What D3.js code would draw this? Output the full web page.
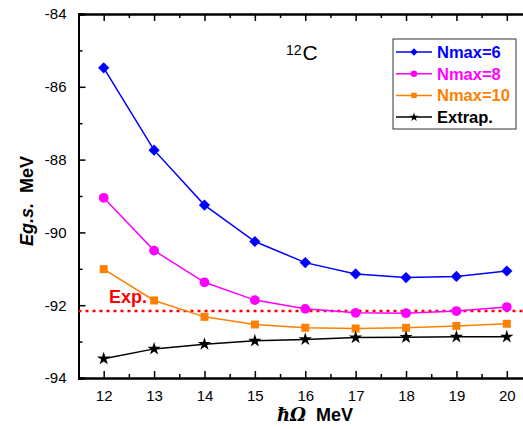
<!DOCTYPE html>
<html>
<head>
<meta charset="utf-8">
<script src="https://cdn.jsdelivr.net/npm/d3@7"></script>
<style>
  body { margin: 0; background: #fff; }
  svg { display: block; font-family: Arial, "Liberation Sans", sans-serif; }
</style>
</head>
<body>
<svg id="chart" width="523" height="429"></svg>
<script>
// hbar*Omega values (MeV)
const hw = [12, 13, 14, 15, 16, 17, 18, 19, 20];
// ground state energies
const nmax6 = [-85.48, -87.74, -89.25, -90.25, -90.83, -91.14, -91.24, -91.21, -91.06];
const nmax8 = [-89.05, -90.50, -91.37, -91.86, -92.10, -92.21, -92.22, -92.16, -92.05];
const nmax10 = [-91.01, -91.87, -92.32, -92.53, -92.62, -92.64, -92.62, -92.57, -92.51];
const extrap = [-93.47, -93.20, -93.07, -92.98, -92.94, -92.89, -92.88, -92.87, -92.87];
const expValue = -92.16;
const yTicks = [-94, -92, -90, -88, -86, -84];
const seriesNames = ["Nmax=6", "Nmax=8", "Nmax=10", "Extrap."];

const svg = d3.select("#chart");
const x = d3.scaleLinear().domain([11.5, 20.5]).range([78.5, 532]);
const y = d3.scaleLinear().domain([-94, -84]).range([378, 14]);

const series = [
  { name: seriesNames[0], values: nmax6, color: "#0000ff", symbol: d3.symbolDiamond2, size: 80 },
  { name: seriesNames[1], values: nmax8, color: "#ff00ff", symbol: d3.symbolCircle, size: 75 },
  { name: seriesNames[2], values: nmax10, color: "#ff8000", symbol: d3.symbolSquare, size: 64 },
  { name: seriesNames[3], values: extrap, color: "#000000", symbol: d3.symbolStar, size: 55 }
];

// axes: ticks point inward
const xMinor = d3.range(12, 20.6, 0.5).filter(v => v % 1 !== 0);
const yMinor = d3.range(-93, -84, 2);

const bottomAx = svg.append("g").attr("transform", "translate(0,378)");
bottomAx.call(d3.axisBottom(x).tickValues(hw).tickSize(-7).tickPadding(12).tickFormat(d => String(d)));
bottomAx.append("g").call(d3.axisBottom(x).tickValues(xMinor).tickSize(-4).tickFormat(""));

const topAx = svg.append("g").attr("transform", "translate(0,14)");
topAx.call(d3.axisTop(x).tickValues(hw).tickSize(-7).tickFormat(""));
topAx.append("g").call(d3.axisTop(x).tickValues(xMinor).tickSize(-4).tickFormat(""));

const leftAx = svg.append("g").attr("transform", "translate(78.5,0)");
leftAx.call(d3.axisLeft(y).tickValues(yTicks).tickSize(-7).tickPadding(12).tickFormat(d => String(d)));
leftAx.append("g").call(d3.axisLeft(y).tickValues(yMinor).tickSize(-4).tickFormat(""));

svg.selectAll(".domain").attr("stroke-width", 2);
svg.selectAll(".tick line").attr("stroke-width", 1.5);
svg.selectAll(".tick text").attr("font-size", 15).attr("fill", "#000")
  .attr("font-family", "Arial, 'Liberation Sans', sans-serif");

// experimental line
svg.append("line")
  .attr("x1", x(11.5)).attr("x2", 523)
  .attr("y1", y(expValue)).attr("y2", y(expValue))
  .attr("stroke", "#ff0000").attr("stroke-width", 2.5)
  .attr("stroke-dasharray", "3,4");
svg.append("text")
  .attr("x", 109).attr("y", 303)
  .attr("font-size", 18).attr("font-weight", "bold").attr("fill", "#ff0000")
  .text("Exp.");

// series lines and markers
const line = d3.line().x((d, i) => x(hw[i])).y(d => y(d));
series.forEach(s => {
  svg.append("path")
    .datum(s.values)
    .attr("d", line)
    .attr("fill", "none")
    .attr("stroke", s.color)
    .attr("stroke-width", 1.5);
  svg.selectAll(null)
    .data(s.values)
    .enter()
    .append("path")
    .attr("transform", (d, i) => "translate(" + x(hw[i]) + "," + y(d) + ")")
    .attr("d", d3.symbol().type(s.symbol).size(s.size))
    .attr("fill", s.color);
});

// nucleus label
const lbl = svg.append("text").attr("x", 286).attr("y", 60).attr("fill", "#000");
lbl.append("tspan").attr("font-size", 14).attr("dy", -5).text("12");
lbl.append("tspan").attr("font-size", 21).attr("dx", 1).attr("dy", 5).text("C");

// legend
const lg = svg.append("g");
lg.append("rect")
  .attr("x", 393).attr("y", 39).attr("width", 123).attr("height", 90)
  .attr("fill", "#fff").attr("stroke", "#333").attr("stroke-width", 1);
series.forEach((s, i) => {
  const ly = 52 + i * 21.7;
  lg.append("line").attr("x1", 396).attr("x2", 432).attr("y1", ly).attr("y2", ly)
    .attr("stroke", s.color).attr("stroke-width", 1.5);
  lg.append("path").attr("transform", "translate(414," + ly + ")")
    .attr("d", d3.symbol().type(s.symbol).size(s.size * 0.45))
    .attr("fill", s.color);
  lg.append("text").attr("x", 437).attr("y", ly + 6)
    .attr("font-size", 16.5).attr("font-weight", "bold").attr("fill", s.color)
    .text(s.name);
});

// axis titles
const yt = svg.append("text")
  .attr("transform", "translate(33,201) rotate(-90)")
  .attr("text-anchor", "middle").attr("font-size", 18).attr("font-weight", "bold");
yt.append("tspan").attr("font-style", "italic").text("Eg.s.");
yt.append("tspan").attr("dx", 10).text("MeV");

const xt = svg.append("text")
  .attr("x", 315).attr("y", 421)
  .attr("text-anchor", "middle").attr("font-size", 18).attr("font-weight", "bold");
xt.append("tspan").attr("font-style", "italic").attr("font-family", "'DejaVu Serif', serif").text("ħΩ");
xt.append("tspan").attr("dx", 10).text("MeV");
</script>
</body>
</html>
